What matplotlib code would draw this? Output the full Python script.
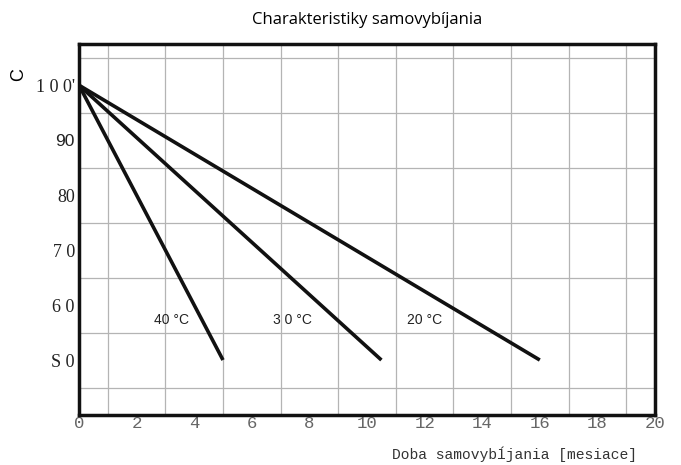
import matplotlib
matplotlib.use("Agg")
import matplotlib.pyplot as plt
import numpy as np

# ---- data ----
series_names = ["40 °C", "3 0 °C", "20 °C"]
start_x = [0, 0, 0]
start_y = [100, 100, 100]
end_x = [5.0, 10.5, 16.0]
end_y = [50, 50, 50]
label_x = [3.2, 7.4, 12.0]
label_y = [57.2, 57.2, 57.2]

x_ticks = list(range(0, 21, 2))
x_ticklabels = [str(v) for v in x_ticks]
y_ticks = [100, 90, 80, 70, 60, 50]
y_ticklabels = ["1 0 0'", "90", "80", "7 0", "6 0", "S 0"]

fig = plt.figure(figsize=(6.81, 4.65), dpi=100)
ax = fig.add_axes([79 / 681, 1 - 415 / 465, 576 / 681, 371 / 465])

# grid
ax.set_xticks(np.arange(0, 21, 1), minor=True)
ax.set_yticks(np.arange(40, 108, 5), minor=True)
ax.grid(which="minor", color="#b4b4b4", linewidth=0.9)
ax.set_axisbelow(True)

for sx, sy, ex, ey in zip(start_x, start_y, end_x, end_y):
    ax.plot([sx, ex], [sy, ey], color="#111111", linewidth=2.6, solid_capstyle="butt")

for name, lx, ly in zip(series_names, label_x, label_y):
    ax.text(lx, ly, name, ha="center", va="center", fontsize=10,
            family="Liberation Sans", color="#222222")

ax.set_xlim(0, 20)
ax.set_ylim(40, 107.5)

ax.set_xticks(x_ticks)
ax.set_xticklabels(x_ticklabels, family="Liberation Mono", fontsize=12.5, color="#666666")
ax.set_yticks(y_ticks)
ax.set_yticklabels(y_ticklabels, family="Liberation Serif", fontsize=13, color="#222222")
for lbl in ax.get_yticklabels():
    if lbl.get_text() == "90":
        lbl.set_family("Liberation Sans")
        lbl.set_fontsize(12.5)
ax.tick_params(axis="both", which="both", length=0)
ax.tick_params(axis="x", pad=1)
ax.tick_params(axis="y", pad=3)

for sp in ax.spines.values():
    sp.set_linewidth(2.5)
    sp.set_color("#111111")

fig.text(367 / 681, 1 - 20 / 465, "Charakteristiky samovybíjania", ha="center",
         va="center", fontsize=12, family="Open Sans")
fig.text(19 / 681, 1 - 75 / 465, "C", rotation=90, ha="center", va="center",
         fontsize=13, family="Liberation Sans")
fig.text(637 / 681, 1 - 454 / 465, "Doba samovybĺjania [mesiace]", ha="right",
         va="center", fontsize=10.5, family="Liberation Mono", color="#333333")

fig.savefig("out.png", dpi=100)
